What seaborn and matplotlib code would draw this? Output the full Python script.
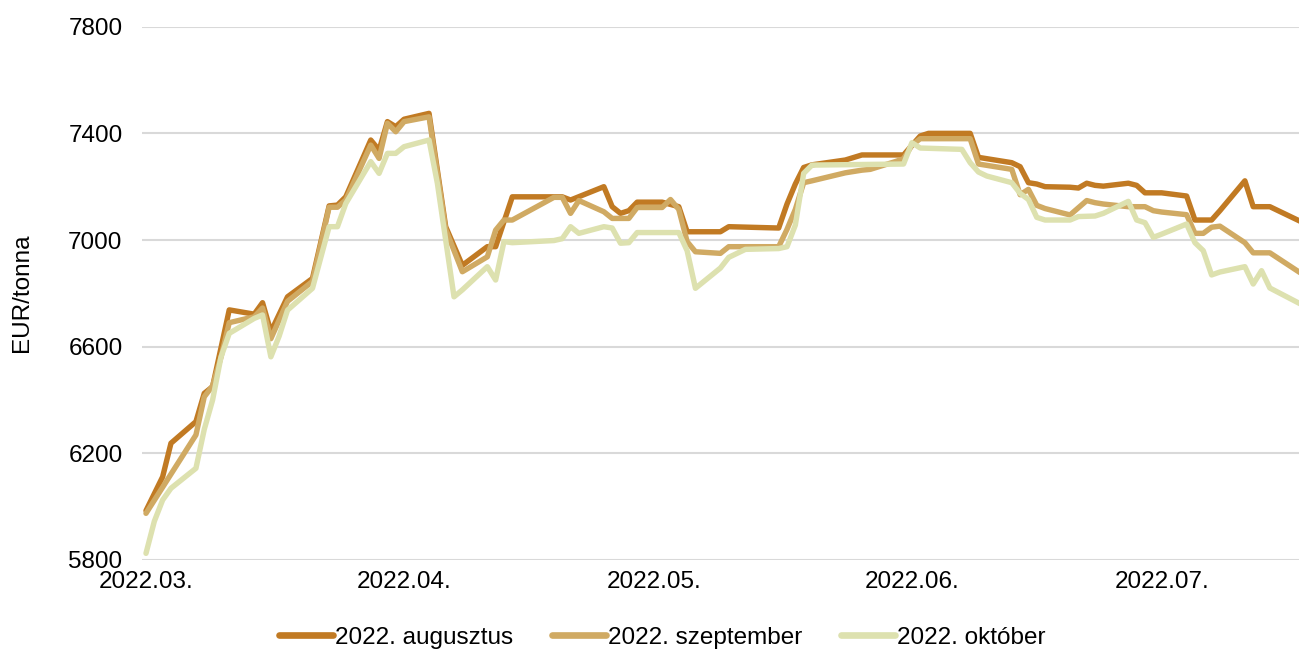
import matplotlib
matplotlib.use("Agg")
import matplotlib.pyplot as plt
import matplotlib.dates as mdates
import seaborn as sns
import pandas as pd

# vertices of each daily series (date, EUR/tonna)
aug_dates = ["2022-03-01", "2022-03-03", "2022-03-04", "2022-03-07", "2022-03-08", "2022-03-09",
             "2022-03-11", "2022-03-14", "2022-03-15", "2022-03-16", "2022-03-18", "2022-03-21",
             "2022-03-23", "2022-03-24", "2022-03-25", "2022-03-28", "2022-03-29", "2022-03-30",
             "2022-03-31", "2022-04-01", "2022-04-04", "2022-04-06", "2022-04-08", "2022-04-11",
             "2022-04-12", "2022-04-14", "2022-04-20", "2022-04-21", "2022-04-25", "2022-04-26",
             "2022-04-27", "2022-04-28", "2022-04-29", "2022-05-02", "2022-05-04", "2022-05-05",
             "2022-05-09", "2022-05-10", "2022-05-16", "2022-05-17", "2022-05-18", "2022-05-19",
             "2022-05-20", "2022-05-24", "2022-05-26", "2022-05-31", "2022-06-01", "2022-06-02",
             "2022-06-03", "2022-06-08", "2022-06-09", "2022-06-13", "2022-06-14", "2022-06-15",
             "2022-06-16", "2022-06-17", "2022-06-20", "2022-06-21", "2022-06-22", "2022-06-23",
             "2022-06-24", "2022-06-27", "2022-06-28", "2022-06-29", "2022-07-01", "2022-07-04",
             "2022-07-05", "2022-07-07", "2022-07-08", "2022-07-11", "2022-07-12", "2022-07-14",
             "2022-07-18"]
aug_values = [5985, 6112, 6238, 6319, 6425, 6450,
              6738, 6722, 6765, 6656, 6787, 6856,
              7128, 7131, 7162, 7375, 7337, 7444,
              7425, 7453, 7475, 7050, 6905, 6975,
              6975, 7162, 7162, 7150, 7200, 7125,
              7100, 7110, 7142, 7142, 7125, 7031,
              7031, 7050, 7045, 7135, 7210, 7272,
              7282, 7300, 7319, 7319, 7355, 7390,
              7400, 7400, 7310, 7290, 7275, 7215,
              7210, 7200, 7198, 7195, 7213, 7205,
              7202, 7213, 7205, 7177, 7177, 7165,
              7075, 7075, 7110, 7222, 7125, 7125,
              7065]

sep_dates = ["2022-03-01", "2022-03-07", "2022-03-08", "2022-03-09", "2022-03-10", "2022-03-11",
             "2022-03-14", "2022-03-15", "2022-03-16", "2022-03-18", "2022-03-21", "2022-03-23",
             "2022-03-24", "2022-03-25", "2022-03-28", "2022-03-29", "2022-03-30", "2022-03-31",
             "2022-04-01", "2022-04-04", "2022-04-06", "2022-04-08", "2022-04-11", "2022-04-12",
             "2022-04-13", "2022-04-14", "2022-04-19", "2022-04-20", "2022-04-21", "2022-04-22",
             "2022-04-25", "2022-04-26", "2022-04-28", "2022-04-29", "2022-05-02", "2022-05-03",
             "2022-05-04", "2022-05-05", "2022-05-06", "2022-05-09", "2022-05-10", "2022-05-16",
             "2022-05-17", "2022-05-18", "2022-05-19", "2022-05-20", "2022-05-24", "2022-05-26",
             "2022-05-27", "2022-05-30", "2022-05-31", "2022-06-01", "2022-06-02", "2022-06-08",
             "2022-06-09", "2022-06-13", "2022-06-14", "2022-06-15", "2022-06-16", "2022-06-17",
             "2022-06-20", "2022-06-22", "2022-06-23", "2022-06-24", "2022-06-27", "2022-06-29",
             "2022-06-30", "2022-07-01", "2022-07-04", "2022-07-05", "2022-07-06", "2022-07-07",
             "2022-07-08", "2022-07-11", "2022-07-12", "2022-07-14", "2022-07-18"]
sep_values = [5975, 6269, 6412, 6453, 6560, 6690,
              6712, 6745, 6630, 6770, 6845, 7123,
              7123, 7150, 7356, 7306, 7438, 7406,
              7444, 7462, 7040, 6881, 6937, 7037,
              7075, 7075, 7160, 7160, 7100, 7148,
              7106, 7081, 7081, 7122, 7122, 7152,
              7115, 6994, 6956, 6950, 6975, 6975,
              7040, 7115, 7215, 7222, 7252, 7262,
              7265, 7294, 7305, 7355, 7380, 7380,
              7285, 7265, 7170, 7190, 7130, 7118,
              7094, 7148, 7140, 7135, 7125, 7125,
              7110, 7105, 7095, 7025, 7025, 7048,
              7052, 6990, 6952, 6952, 6870]

okt_dates = ["2022-03-01", "2022-03-02", "2022-03-03", "2022-03-04", "2022-03-07", "2022-03-08",
             "2022-03-09", "2022-03-10", "2022-03-11", "2022-03-14", "2022-03-15", "2022-03-16",
             "2022-03-17", "2022-03-18", "2022-03-21", "2022-03-23", "2022-03-24", "2022-03-25",
             "2022-03-28", "2022-03-29", "2022-03-30", "2022-03-31", "2022-04-01", "2022-04-04",
             "2022-04-05", "2022-04-07", "2022-04-08", "2022-04-11", "2022-04-12", "2022-04-13",
             "2022-04-14", "2022-04-19", "2022-04-20", "2022-04-21", "2022-04-22", "2022-04-25",
             "2022-04-26", "2022-04-27", "2022-04-28", "2022-04-29", "2022-05-04", "2022-05-05",
             "2022-05-06", "2022-05-09", "2022-05-10", "2022-05-11", "2022-05-12", "2022-05-16",
             "2022-05-17", "2022-05-18", "2022-05-19", "2022-05-20", "2022-05-31", "2022-06-01",
             "2022-06-02", "2022-06-07", "2022-06-08", "2022-06-09", "2022-06-10", "2022-06-13",
             "2022-06-14", "2022-06-15", "2022-06-16", "2022-06-17", "2022-06-20", "2022-06-21",
             "2022-06-23", "2022-06-24", "2022-06-27", "2022-06-28", "2022-06-29", "2022-06-30",
             "2022-07-01", "2022-07-04", "2022-07-05", "2022-07-06", "2022-07-07", "2022-07-08",
             "2022-07-11", "2022-07-12", "2022-07-13", "2022-07-14", "2022-07-18"]
okt_values = [5825, 5945, 6025, 6069, 6144, 6290,
              6400, 6560, 6650, 6706, 6719, 6562,
              6640, 6737, 6819, 7050, 7050, 7137,
              7294, 7250, 7325, 7325, 7350, 7375,
              7213, 6787, 6813, 6900, 6850, 6994,
              6990, 6998, 7005, 7050, 7025, 7050,
              7045, 6988, 6990, 7028, 7028, 6960,
              6819, 6895, 6935, 6950, 6965, 6968,
              6975, 7056, 7250, 7281, 7285, 7365,
              7345, 7340, 7290, 7255, 7240, 7215,
              7175, 7152, 7085, 7075, 7075, 7088,
              7090, 7100, 7145, 7075, 7065, 7010,
              7022, 7060, 6990, 6960, 6869, 6880,
              6900, 6835, 6885, 6820, 6755]

series_names = ["2022. augusztus", "2022. szeptember", "2022. október"]
colors = ["#C17A23", "#D0AA63", "#DDE1AF"]
y_ticks = [5800, 6200, 6600, 7000, 7400, 7800]

frames = []
for name, d, v in zip(series_names, [aug_dates, sep_dates, okt_dates],
                      [aug_values, sep_values, okt_values]):
    frames.append(pd.DataFrame({"date": pd.to_datetime(d), "value": v, "series": name}))
df = pd.concat(frames, ignore_index=True)

sns.set_theme(style="white")
plt.rcParams["font.family"] = ["Liberation Sans", "DejaVu Sans"]
plt.rcParams["text.color"] = "black"

fig = plt.figure(figsize=(12.99, 6.52), dpi=100)
ax = fig.add_axes([142 / 1299, 1 - 560 / 652, 1 - 142 / 1299, (560 - 26.7) / 652])

sns.lineplot(data=df, x="date", y="value", hue="series", hue_order=series_names,
             palette=colors, linewidth=3.9, ax=ax, legend=False, sort=True)

start = pd.Timestamp("2022-03-01")
ax.set_xlim(start - pd.Timedelta(hours=11.5), start + pd.Timedelta(days=138.5))
ax.set_ylim(5800, 7800)
ax.set_yticks(y_ticks)
ax.xaxis.set_major_locator(mdates.MonthLocator())
ax.xaxis.set_major_formatter(mdates.DateFormatter("%Y.%m."))

ax.grid(axis="y", color="#D9D9D9", linewidth=1.5)
ax.grid(axis="x", visible=False)
for s in ax.spines.values():
    s.set_visible(False)
ax.tick_params(axis="y", length=0, pad=14, labelsize=17.5, colors="black")
ax.tick_params(axis="x", length=0, pad=8, labelsize=17.5, colors="black")
ax.set_xlabel("")
ax.set_ylabel("")
ax.set_axisbelow(True)

fig.text(22 / 1299, 1 - 293 / 652, "EUR/tonna", rotation=90, ha="center", va="center",
         fontsize=17.5, color="black")

handles = [plt.Line2D([], [], color=c, linewidth=4.8) for c in colors]
leg = fig.legend(handles, series_names, loc="center", bbox_to_anchor=(0.51, 0.0215), ncol=3,
                 frameon=False, fontsize=17.5, handlelength=2.2, handletextpad=0.1,
                 columnspacing=1.6, borderaxespad=0)
for t in leg.get_texts():
    t.set_color("black")

fig.savefig("out.png", dpi=100)
